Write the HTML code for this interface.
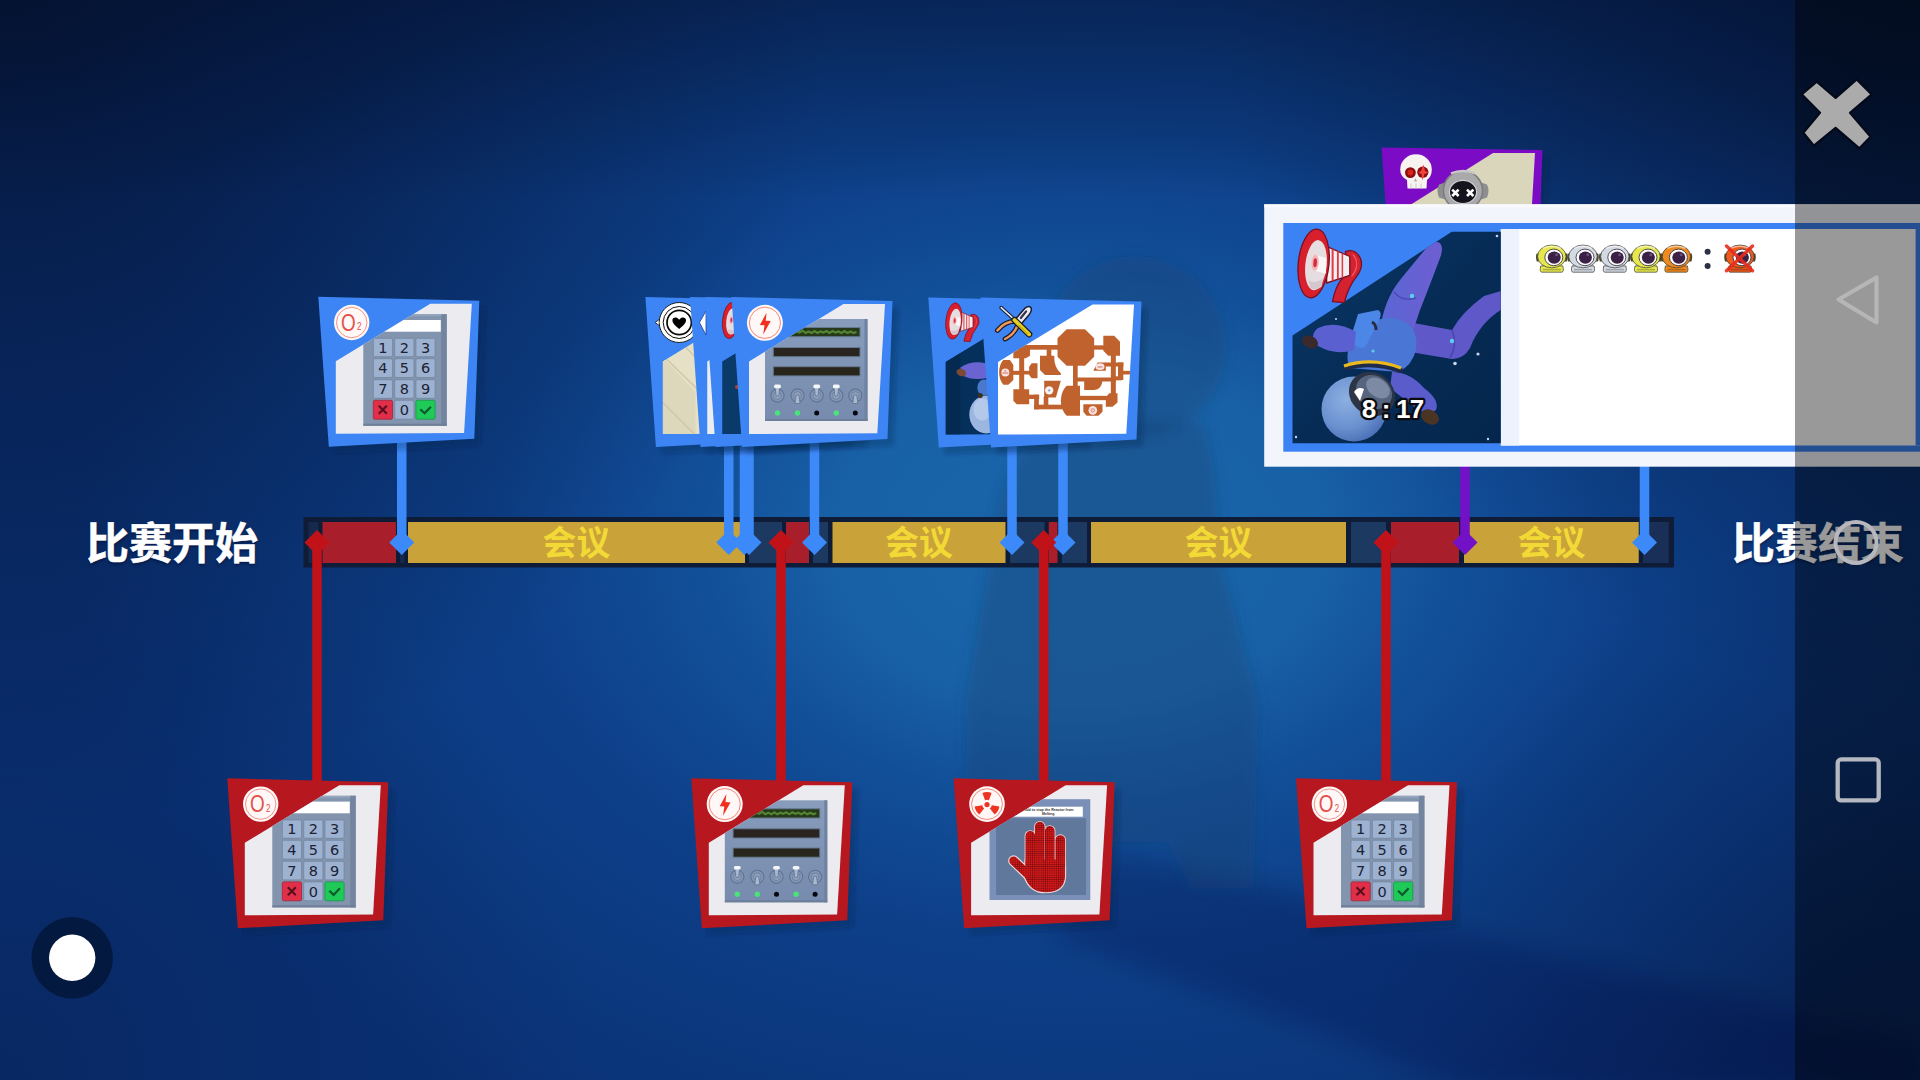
<!DOCTYPE html>
<html lang="zh-CN">
<head>
<meta charset="utf-8">
<title>比赛回放时间线</title>
<style>
html,body{margin:0;padding:0;width:1920px;height:1080px;overflow:hidden;background:#0c3a80;}
body{position:relative;font-family:"Liberation Sans","Noto Sans CJK SC",sans-serif;}
#bg{position:absolute;left:0;top:0;width:1920px;height:1080px;
 background:
  linear-gradient(to bottom, rgba(2,9,28,.4) 0px, rgba(2,9,28,0) 200px),
  radial-gradient(circle 830px at 0px 0px, rgba(2,8,26,.6) 0%, rgba(2,8,26,0) 100%),
  radial-gradient(circle 700px at 1920px 0px, rgba(2,8,26,.52) 0%, rgba(2,8,26,0) 100%),
  radial-gradient(circle 600px at 0px 1080px, rgba(2,8,30,.22) 0%, rgba(2,8,30,0) 100%),
  radial-gradient(circle 560px at 1920px 1080px, rgba(2,8,30,.38) 0%, rgba(2,8,30,0) 100%),
  radial-gradient(ellipse 1000px 700px at 1080px 538px, #1a66ab 0%, #1861a7 24%, #124f99 38%, #0d3f88 58%, #0b367c 85%, #0a3176 100%);}
#scene{position:absolute;left:0;top:0;}
.lbl{position:absolute;color:#fff;font-weight:700;font-size:43px;line-height:43px;-webkit-text-stroke:0.5px #fff;white-space:nowrap;letter-spacing:0;text-shadow:0 2px 3px rgba(0,0,30,.45);}
.meet{position:absolute;top:523px;height:41px;line-height:40px;font-size:34px;font-weight:700;color:#f2d936;text-align:center;white-space:nowrap;}
#nav{position:absolute;left:1795px;top:0;width:125px;height:1080px;background:rgba(0,0,0,.4);}
#navsvg{position:absolute;left:1795px;top:0;}
</style>
</head>
<body>
<div id="bg"></div>
<svg id="scene" width="1920" height="1080" viewBox="0 0 1920 1080">
<defs>
<filter id="fBlur" x="-10%" y="-10%" width="120%" height="120%"><feGaussianBlur stdDeviation="2"/></filter>
<filter id="fBlurBig" filterUnits="userSpaceOnUse" x="850" y="150" width="520" height="850"><feGaussianBlur stdDeviation="7"/></filter>
<filter id="fBlurFloor" filterUnits="userSpaceOnUse" x="900" y="750" width="1100" height="400"><feGaussianBlur stdDeviation="12"/></filter>
<clipPath id="cpPanel"><path d="M17.5 64.5 L112 7 L153.5 7 L145.8 136.2 L17.5 137 Z"/></clipPath>
<pattern id="handgrid" width="13" height="13" patternUnits="userSpaceOnUse"><rect width="13" height="13" fill="#d81a1a"/><path d="M0 0H13M0 0V13" stroke="#7c0c10" stroke-width="6"/></pattern>
<linearGradient id="gPanelBody" x1="0" y1="0" x2="0" y2="1"><stop offset="0" stop-color="#889cbc"/><stop offset="1" stop-color="#768bad"/></linearGradient>
<!-- keypad content (card-local coords) -->
<g id="cKeypad">
 <rect x="45" y="17.5" width="83.4" height="111.6" fill="#8294ae"/>
 <rect x="45" y="17.5" width="83.4" height="2" fill="#93a4bc"/>
 <rect x="123" y="17.5" width="5.4" height="111.6" fill="#73849f"/>
 <rect x="45" y="127" width="83.4" height="2.1" fill="#6f7f99"/>
 <rect x="66" y="23.3" width="56.5" height="11.7" fill="#ffffff"/>
 <g fill="#9db1d1" stroke="#74869f" stroke-width="0.8">
  <rect x="55" y="41.6" width="19.2" height="18.4" rx="1.5"/><rect x="76.4" y="41.6" width="19.2" height="18.4" rx="1.5"/><rect x="97.6" y="41.6" width="19.2" height="18.4" rx="1.5"/>
  <rect x="55" y="62" width="19.2" height="18.8" rx="1.5"/><rect x="76.4" y="62" width="19.2" height="18.8" rx="1.5"/><rect x="97.6" y="62" width="19.2" height="18.8" rx="1.5"/>
  <rect x="55" y="83" width="19.2" height="18.6" rx="1.5"/><rect x="76.4" y="83" width="19.2" height="18.6" rx="1.5"/><rect x="97.6" y="83" width="19.2" height="18.6" rx="1.5"/>
  <rect x="76.4" y="103.6" width="19.2" height="18.9" rx="1.5"/>
 </g>
 <rect x="55" y="103.6" width="19.2" height="18.9" rx="1.5" fill="#e12f49" stroke="#a82238" stroke-width="0.8"/>
 <rect x="97.6" y="103.6" width="19.2" height="18.9" rx="1.5" fill="#1fca59" stroke="#16984a" stroke-width="0.8"/>
 <g font-family="'DejaVu Sans','Liberation Sans',sans-serif" font-size="14.5" fill="#1b2233" text-anchor="middle">
  <text x="64.6" y="56">1</text><text x="86" y="56">2</text><text x="107.2" y="56">3</text>
  <text x="64.6" y="76.6">4</text><text x="86" y="76.6">5</text><text x="107.2" y="76.6">6</text>
  <text x="64.6" y="97.6">7</text><text x="86" y="97.6">8</text><text x="107.2" y="97.6">9</text>
  <text x="86" y="118.4">0</text>
 </g>
 <path d="M60.5 109 L68.5 117 M68.5 109 L60.5 117" stroke="#5a0f1c" stroke-width="2.2" fill="none"/>
 <path d="M102 112.5 L106.3 116.6 L112.6 110" stroke="#0d5a2a" stroke-width="2.2" fill="none"/>
</g>
<!-- electric panel content -->
<g id="cElectric">
 <rect x="33.5" y="22" width="102.5" height="102" fill="url(#gPanelBody)"/>
 <rect x="133" y="22" width="3" height="102" fill="#6f829f"/>
 <rect x="33.5" y="122" width="102.5" height="2" fill="#6c7e9a"/>
 <g stroke="#66788f" stroke-width="1">
  <rect x="41.8" y="30.5" width="86.7" height="9.2" fill="#263a1a"/>
  <rect x="41.8" y="50.5" width="86.7" height="9.2" fill="#2a2421"/>
  <rect x="41.8" y="69.7" width="86.7" height="9.2" fill="#27251c"/>
 </g>
 <path d="M44 35 l3 -1.5 l3 2.5 l3 -2 l3 1.5 l3 -2 l3 2.5 l3 -1.5 l3 1 l3 -2 l3 2.5 l3 -1.5 l3 1.5 l3 -2 l3 2 l3 -1.5 l3 1 l3 -1.5 l3 2 l3 -2 l3 1.5 l3 -1 l3 1.5 l3 -2 l3 2 l3 -1.5 l3 1.5 l3 -1" stroke="#5d9236" stroke-width="2.2" fill="none" stroke-opacity=".85"/>
 <g fill="#8196b4" stroke="#5f7390" stroke-width="1.1">
  <circle cx="46" cy="98.5" r="6.6"/><circle cx="66" cy="98.5" r="6.6"/><circle cx="85.2" cy="98.5" r="6.6"/><circle cx="104.8" cy="98.5" r="6.6"/><circle cx="123.8" cy="98.5" r="6.6"/>
 </g>
 <g fill="#8ea2c0" stroke="#667a97" stroke-width="0.7"><circle cx="46" cy="98.5" r="3.8"/><circle cx="66" cy="98.5" r="3.8"/><circle cx="85.2" cy="98.5" r="3.8"/><circle cx="104.8" cy="98.5" r="3.8"/><circle cx="123.8" cy="98.5" r="3.8"/></g>
 <g fill="#a8b8d0" stroke="#60738f" stroke-width="0.8">
  <path d="M43.6 90 h4.8 l-1 9 h-2.8z"/><path d="M82.8 90 h4.8 l-1 9 h-2.8z"/><path d="M102.4 90 h4.8 l-1 9 h-2.8z"/>
  <path d="M64.6 98 h2.8 l1.2 8.5 h-5.2z"/><path d="M122.4 98 h2.8 l1.2 8.5 h-5.2z"/>
 </g>
 <g fill="#f4f6fa"><rect x="42.6" y="87.6" width="6.8" height="3.6" rx="1.5"/><rect x="81.8" y="87.6" width="6.8" height="3.6" rx="1.5"/><rect x="101.4" y="87.6" width="6.8" height="3.6" rx="1.5"/></g>
 <g><circle cx="46" cy="116" r="2.7" fill="#4be27a"/><circle cx="66" cy="116" r="2.7" fill="#4be27a"/><circle cx="85.2" cy="116" r="2.5" fill="#05070c"/><circle cx="104.8" cy="116" r="2.7" fill="#4be27a"/><circle cx="123.8" cy="116" r="2.5" fill="#05070c"/></g>
</g>
<!-- reactor content -->
<g id="cReactor">
 <rect x="35.9" y="20.9" width="100.8" height="100.8" fill="#7a90b8"/>
 <rect x="42.5" y="40" width="90" height="76.7" fill="#61789d"/>
 <rect x="60" y="28.4" width="69.2" height="10" fill="#ffffff"/>
 <text x="94.6" y="32.6" font-size="3.6" font-weight="700" fill="#333" text-anchor="middle" font-family="'Liberation Sans',sans-serif">Hold to stop the Reactor from</text>
 <text x="94.6" y="36.8" font-size="3.6" font-weight="700" fill="#333" text-anchor="middle" font-family="'Liberation Sans',sans-serif">Melting</text>
 <g transform="translate(-23.3,-18.3) scale(0.16667)">
  <g stroke="#e9d6d6" stroke-linecap="round" stroke-linejoin="round" fill="#e9d6d6">
   <path d="M600 455 V620 M657 400 V620 M717 425 V620 M780 480 V640" stroke-width="68" fill="none"/>
   <path d="M500 605 L600 700" stroke-width="66" fill="none"/>
   <path d="M575 600 H805 V700 Q800 790 690 790 Q600 790 570 700 Z" stroke-width="20"/>
  </g>
  <g stroke="url(#handgrid)" stroke-linecap="round" stroke-linejoin="round" fill="url(#handgrid)">
   <path d="M600 455 V620 M657 400 V620 M717 425 V620 M780 480 V640" stroke-width="58" fill="none"/>
   <path d="M500 605 L600 700" stroke-width="52" fill="none"/>
   <path d="M575 600 H805 V700 Q800 790 690 790 Q600 790 570 700 Z" stroke-width="6"/>
  </g>
 </g>
</g>
<!-- map content: drawn in 6x zoom coords -->
<g id="cMap">
 <g transform="translate(-80.5,-17.5) scale(0.16667)" fill="#c0622e" stroke="none">
  <path d="M1000 295 H1110 L1165 350 V460 L1110 515 H1000 L945 460 V350 Z"/>
  <path d="M1220 335 H1285 L1320 370 V455 H1250 L1220 425 Z"/>
  <rect x="690" y="390" width="265" height="28"/>
  <rect x="1160" y="392" width="70" height="26"/>
  <path d="M680 430 L720 400 H780 V455 L755 470 H680 Z"/>
  <rect x="715" y="400" width="30" height="285"/>
  <rect x="880" y="415" width="28" height="45"/>
  <path d="M620 480 H660 L680 510 V600 L650 628 H620 Q595 600 595 555 Q595 505 620 480 Z"/>
  <rect x="665" y="545" width="60" height="24"/>
  <path d="M790 500 H825 V590 H790 L775 570 V520 Z"/>
  <rect x="740" y="545" width="45" height="22"/>
  <path d="M840 455 H925 Q925 530 965 560 V570 H870 L840 540 Z"/>
  <path d="M680 655 H775 V745 H700 L680 725 Z"/>
  <rect x="770" y="688" width="65" height="26"/>
  <rect x="805" y="688" width="28" height="88"/>
  <rect x="805" y="748" width="170" height="28"/>
  <path d="M865 605 H965 L935 705 H865 Z"/>
  <rect x="862" y="700" width="28" height="55"/>
  <path d="M1000 635 H1080 V815 H1000 Q965 780 965 725 Q965 670 1000 635 Z"/>
  <rect x="1038" y="510" width="28" height="130"/>
  <rect x="1060" y="585" width="235" height="24"/>
  <path d="M1105 590 H1215 Q1215 660 1160 660 H1105 Z"/>
  <rect x="1265" y="450" width="30" height="250"/>
  <path d="M1185 495 H1235 V545 H1160 Z"/>
  <rect x="1230" y="495" width="110" height="24"/>
  <rect x="1308" y="495" width="32" height="105"/>
  <rect x="1290" y="578" width="40" height="24"/>
  <rect x="1335" y="545" width="45" height="22"/>
  <rect x="1078" y="695" width="165" height="26"/>
  <path d="M1255 680 H1305 V735 L1275 760 H1235 V705 Z"/>
  <path d="M1100 745 H1215 V790 L1190 815 H1120 L1100 790 Z"/>
 </g>
 <g transform="translate(-80.5,-17.5) scale(0.16667)">
  <circle cx="632" cy="555" r="24" fill="#f6e4e0"/><path d="M614 558 H650" stroke="#d0504a" stroke-width="5"/><circle cx="632" cy="545" r="6" fill="#e8908a"/>
  <circle cx="895" cy="662" r="25" fill="#fbf3f0"/><circle cx="895" cy="662" r="7" fill="#9aa6d8"/>
  <ellipse cx="1200" cy="520" rx="27" ry="20" fill="#f6e4e0"/><path d="M1186 522 H1214" stroke="#d0504a" stroke-width="5"/>
  <circle cx="1157" cy="782" r="26" fill="#f6e0dc"/><circle cx="1157" cy="782" r="10" fill="none" stroke="#d85a54" stroke-width="4"/>
 </g>
</g>
<!-- heart card content: cream wall with diagonals -->
<g id="cCream">
 <rect x="10" y="5" width="150" height="140" fill="#e6e0c6"/>
 <path d="M17 60 L50 95 L50 145 L17 145Z" fill="#ddd7bb"/>
 <path d="M17 58 L60 100 M17 105 L60 148 M30 40 L70 80" stroke="#cfc8aa" stroke-width="1.5" fill="none"/>
</g>
<g id="cPlain"><rect x="10" y="5" width="150" height="140" fill="#ecedf1"/></g>
<g id="cWhite"><rect x="10" y="5" width="150" height="140" fill="#ffffff"/></g>
<g id="cDark"><rect x="10" y="5" width="150" height="140" fill="#0a3a6a"/><circle cx="32" cy="90" r="2" fill="#b04030"/></g>
<g id="cSpaceSmall">
 <rect x="10" y="5" width="150" height="140" fill="#06305c"/>
 <rect x="10" y="5" width="22" height="140" fill="#052a52"/>
 <ellipse cx="58" cy="117" rx="17" ry="19" fill="#9db6e0"/>
 <ellipse cx="54" cy="112" rx="9" ry="11" fill="#b4c8ea"/>
 <path d="M32 70 Q44 62 58 66 Q66 72 60 80 Q46 84 34 78 Z" fill="#6a64d2"/>
 <ellipse cx="56" cy="90" rx="7" ry="8" fill="#4a78cc"/>
 <ellipse cx="33" cy="75" rx="5" ry="3.6" transform="rotate(20 33 75)" fill="#7a4a34"/>
 <circle cx="52" cy="98" r="2.5" fill="#3a3020"/>
</g>
<!-- icons in card-local coords, centre ~ (33.4,25.8) -->
<g id="iO2">
 <circle cx="33.4" cy="25.8" r="17.7" fill="#fff8f6"/>
 <circle cx="33.4" cy="25.8" r="15.2" fill="none" stroke="#ec8278" stroke-width="0.85"/>
 <text transform="translate(30.1,25.7) scale(0.86,1.07)" x="0" y="7.7" text-anchor="middle" font-family="'Liberation Sans',sans-serif" font-size="22" fill="#e4504a">O</text>
 <text transform="translate(41,33.7) scale(0.8,1)" x="0" y="0" text-anchor="middle" font-family="'Liberation Sans',sans-serif" font-size="10" fill="#e4504a">2</text>
</g>
<g id="iBolt">
 <circle cx="33.4" cy="25.8" r="18" fill="#fff8f6"/>
 <circle cx="33.4" cy="25.8" r="15.6" fill="none" stroke="#ec7468" stroke-width="0.85"/>
 <path transform="translate(33.4,25.8)" d="M1.7 -10 L-5 2.1 L-0.4 2.5 L-1.7 11.7 L5.8 -1.7 L0.8 -2.1 Z" fill="#f1301f"/>
</g>
<g id="iNuke">
 <circle cx="33.4" cy="25.8" r="17.8" fill="#fff8f6"/>
 <circle cx="33.4" cy="25.8" r="15.4" fill="none" stroke="#ec7468" stroke-width="0.85"/>
 <g transform="translate(33.4,26.3)" fill="#ee3322">
  <circle r="2.6"/>
  <path id="blade" d="M-1.9 -4.4 L-4.6 -11.6 A12.5 12.5 0 0 1 4.6 -11.6 L1.9 -4.4 A4.8 4.8 0 0 0 -1.9 -4.4 Z"/>
  <path transform="rotate(120)" d="M-1.9 -4.4 L-4.6 -11.6 A12.5 12.5 0 0 1 4.6 -11.6 L1.9 -4.4 A4.8 4.8 0 0 0 -1.9 -4.4 Z"/>
  <path transform="rotate(240)" d="M-1.9 -4.4 L-4.6 -11.6 A12.5 12.5 0 0 1 4.6 -11.6 L1.9 -4.4 A4.8 4.8 0 0 0 -1.9 -4.4 Z"/>
 </g>
</g>
<g id="iVitals">
 <g transform="translate(33.8,25.5)">
  <path d="M-24 0 L-18 -4.5 L-18 4.5 Z" fill="#fff" stroke="#111" stroke-width="0.8"/>
  <circle r="20" fill="#ffffff" stroke="#0b0b0b" stroke-width="0.9"/>
  <circle r="16" fill="none" stroke="#0b0b0b" stroke-width="1"/>
  <circle r="12.2" fill="none" stroke="#0b0b0b" stroke-width="1.7"/>
  <path d="M0 6.5 C-3 4 -6.8 1.2 -6.8 -2.2 C-6.8 -5.2 -2.6 -6.2 0 -2.8 C2.6 -6.2 6.8 -5.2 6.8 -2.2 C6.8 1.2 3 4 0 6.5 Z" fill="#000"/>
 </g>
</g>
<!-- megaphone drawn in a 380x440 box (popup 6x zoom coords, origin 230,210) -->
<g id="iMega">
 <g stroke="#7a1024" stroke-width="8" stroke-linejoin="round">
  <path d="M283 130 Q340 108 372 168 Q394 222 350 278 Q300 340 276 436 L205 430 Q222 340 262 292 L300 268 Z" fill="#d42230"/>
  <path d="M170 98 L309 159 L309 272 L170 318 Z" fill="#f3eef0"/>
  <ellipse cx="92" cy="201" rx="92" ry="207" transform="rotate(6 92 201)" fill="#d8202c"/>
 </g>
 <path d="M200 111 L212 116.4 L212 304 L200 308 Z M232 125 L243 130 L243 294 L232 297.5 Z M260 137.5 L269 141.4 L269 285 L260 288 Z" fill="#e23a44"/>
 <path d="M330 150 Q352 175 350 215 Q345 250 322 275" stroke="#ee5a66" stroke-width="7" fill="none" stroke-linecap="round"/>
 <ellipse cx="106" cy="211" rx="64" ry="151" transform="rotate(6 106 211)" fill="#e6dde1"/>
 <path d="M60 300 Q100 330 150 290 L140 340 Q100 372 70 345 Z" fill="#d4c8ce"/>
 <path d="M101 150 L168 168 L166 262 L101 245 Z" fill="#f9f6f7"/>
 <ellipse cx="101" cy="197" rx="22" ry="48" transform="rotate(4 101 197)" fill="#f6b4b8"/>
 <ellipse cx="101" cy="197" rx="11" ry="27" transform="rotate(4 101 197)" fill="#d23040"/>
</g>
<!-- tools: crossed screwdriver + pliers, in 6x zoom coords origin (575,150), size 225x215 -->
<g id="iTools">
 <g stroke="#1a1c30" stroke-linecap="round" stroke-linejoin="round" fill="none">
  <path d="M112 98 Q55 100 10 152 M128 128 Q110 175 56 204" stroke-width="30"/>
  <path d="M112 98 Q55 100 10 152 M128 128 Q110 175 56 204" stroke="#f09a5a" stroke-width="15"/>
  <path d="M112 92 L172 22 Q200 -2 212 18 Q218 34 200 58 L146 122 Z" fill="#ebebf0" stroke-width="9"/>
  <path d="M182 38 L150 78" stroke="#34304a" stroke-width="13"/>
  <path d="M32 16 L112 88" stroke-width="22"/>
  <path d="M32 16 L112 88" stroke="#e4ecf4" stroke-width="9"/>
  <path d="M112 90 L200 176" stroke-width="38"/>
  <path d="M112 90 L200 176" stroke="#e6cf1e" stroke-width="23"/>
  <path d="M140 124 L192 174" stroke="#b8a010" stroke-width="6"/>
 </g>
</g>
<!-- skull, centre (0,0) ~ 32 wide -->
<g id="iSkull">
 <path d="M-15.8 0 A15.8 15.2 0 1 1 15.8 0 Q15.8 7 11 10.5 L10.5 19 L-8.5 19 L-9 10.5 Q-15.8 7 -15.8 0 Z" fill="#f7f3f1"/>
 <path d="M-5 14 V19 M0 14 V19 M5 14 V19" stroke="#d8cfcc" stroke-width="1.2"/>
 <circle cx="-5.6" cy="3.2" r="5.4" fill="#8c0c10"/><circle cx="-5.6" cy="3.2" r="3" fill="#d8221c"/>
 <circle cx="6.8" cy="2.8" r="5.6" fill="#8c0c10"/>
 <path d="M7.5 -5 L5 1.5 L2 3 L5.5 4.5 L6.5 11 L8.5 4.5 L12.5 3 L9 1.5 Z" fill="#f0433c"/>
 <path d="M-0.5 8.5 L-2 12 H1 Z" fill="#b9aaa6"/>
</g>
<!-- dead helmet, centre (0,0) r~19 -->
<g id="iDead">
 <path d="M-24 -6 Q-27 0 -24 7 L-18 9 L-18 -8 Z M24 -6 Q27 0 24 7 L18 9 L18 -8 Z" fill="#8e8e90"/>
 <circle r="19.5" fill="#a9a9ab"/>
 <circle r="19.5" fill="none" stroke="#7c7c80" stroke-width="1.5"/>
 <path d="M-12 -17 Q0 -22 12 -17" stroke="#c8c8ca" stroke-width="2.5" fill="none"/>
 <ellipse cx="0" cy="1.5" rx="13.6" ry="11.6" fill="#15131c"/>
 <ellipse cx="0" cy="1.5" rx="13.6" ry="11.6" fill="none" stroke="#d0d0d4" stroke-width="1.2"/>
 <path d="M-10.8 -0.8 L-4.4 5.6 M-4.4 -0.8 L-10.8 5.6 M4 -0.8 L10.4 5.6 M10.4 -0.8 L4 5.6" stroke="#fff" stroke-width="2.6"/>
</g>
<linearGradient id="gSpace" x1="0" y1="0" x2="1" y2="1"><stop offset="0" stop-color="#0a3868"/><stop offset="0.5" stop-color="#062c56"/><stop offset="1" stop-color="#04264c"/></linearGradient>
<radialGradient id="gHelmet" cx="0.38" cy="0.35" r="0.75"><stop offset="0" stop-color="#8db0e2"/><stop offset="0.6" stop-color="#6a90cf"/><stop offset="1" stop-color="#4468b0"/></radialGradient>
<linearGradient id="gLeg" x1="0" y1="0" x2="1" y2="0"><stop offset="0" stop-color="#5a66d4"/><stop offset="1" stop-color="#6e5ed2"/></linearGradient>
<clipPath id="cpSpace"><path d="M1292.5 443.3 L1292.5 335.5 L1451.7 231.7 L1500.8 231.7 L1500.8 443.3 Z"/></clipPath>
<g id="helm">
 <path d="M-11 9.5 Q-12.5 15.5 -10 15.8 H10 Q12.5 15.5 11 9.5 Z" fill="currentColor" stroke="#3a3a30" stroke-width="0.7"/>
 <path d="M-9 13.2 H9" stroke="#000" stroke-opacity=".25" stroke-width="1.6"/>
 <path d="M-15.2 -3 Q-16.5 1 -15 5 L-12 5 L-12 -3 Z M15.2 -3 Q16.5 1 15 5 L12 5 L12 -3 Z" fill="#4a4630"/>
 <ellipse cx="0" cy="0" rx="14.2" ry="11.4" fill="currentColor" stroke="#3a3a30" stroke-width="0.7"/>
 <path d="M-9 -8.2 Q0 -12.2 9 -8.2" stroke="#fff" stroke-opacity=".55" stroke-width="1.6" fill="none"/>
 <ellipse cx="2" cy="1" rx="9" ry="8.3" fill="#ffffff" stroke="#2a2030" stroke-width="0.8"/>
 <ellipse cx="2.4" cy="1.2" rx="6.5" ry="6.1" fill="#3a2145"/>
 <circle cx="4.8" cy="-1.6" r="1.5" fill="#6a5078"/>
</g>

</defs>
<g id="floorshadow" filter="url(#fBlurFloor)"><path d="M1116 850 L1400 918 L1795 1012 L1920 1045 L1920 1090 L1480 1090 L1050 935 Z" fill="#020b30" fill-opacity=".22"/></g>
<g id="silhouette" fill="#1a3f70" fill-opacity=".36" filter="url(#fBlurBig)">
 <circle cx="1135" cy="347" r="91"/>
 <path d="M1064 422 Q1000 440 990 560 L966 700 L968 830 L975 888 L1042 888 L1062 842 L1168 842 L1190 888 L1254 888 L1258 700 L1220 560 Q1216 450 1202 422 Z"/>
</g>

<rect x="303.5" y="517" width="1370.5" height="50.5" fill="#0f1c38"/>
<rect x="308.5" y="522" width="10.0" height="41" fill="#15294c"/>
<rect x="322.5" y="522" width="73.5" height="41" fill="#a81f2b"/>
<rect x="400" y="522" width="4.5" height="41" fill="#15294c"/>
<rect x="408" y="522" width="337" height="41" fill="#c9a23a"/>
<rect x="749" y="522" width="33" height="41" fill="#1c3962"/>
<rect x="786" y="522" width="23" height="41" fill="#a81f2b"/>
<rect x="813" y="522" width="15" height="41" fill="#1c3962"/>
<rect x="832.5" y="522" width="173.0" height="41" fill="#c9a23a"/>
<rect x="1010" y="522" width="34.5" height="41" fill="#1c3962"/>
<rect x="1048.75" y="522" width="8.75" height="41" fill="#a81f2b"/>
<rect x="1062" y="522" width="25" height="41" fill="#1c3962"/>
<rect x="1091" y="522" width="255" height="41" fill="#c9a23a"/>
<rect x="1351" y="522" width="35" height="41" fill="#1c3962"/>
<rect x="1391" y="522" width="68" height="41" fill="#a81f2b"/>
<rect x="1464" y="522" width="174.75" height="41" fill="#c9a23a"/>
<rect x="1643" y="522" width="25.75" height="41" fill="#1a2f58"/>
<rect x="397.0" y="430" width="9.5" height="112" fill="#3c8af9"/>
<path d="M401.75 530 L414.25 542.5 L401.75 555 L389.25 542.5 Z" fill="#3c8af9"/>
<rect x="724.0" y="430" width="9.5" height="112" fill="#3c8af9"/>
<path d="M728.75 530 L741.25 542.5 L728.75 555 L716.25 542.5 Z" fill="#3c8af9"/>
<rect x="739.75" y="430" width="9.5" height="112" fill="#3c8af9"/>
<path d="M744.5 530 L757.0 542.5 L744.5 555 L732.0 542.5 Z" fill="#3c8af9"/>
<rect x="744.25" y="430" width="9.5" height="112" fill="#3c8af9"/>
<path d="M749 530 L761.5 542.5 L749 555 L736.5 542.5 Z" fill="#3c8af9"/>
<rect x="809.75" y="430" width="9.5" height="112" fill="#3c8af9"/>
<path d="M814.5 530 L827.0 542.5 L814.5 555 L802.0 542.5 Z" fill="#3c8af9"/>
<rect x="1007.25" y="430" width="9.5" height="112" fill="#3c8af9"/>
<path d="M1012 530 L1024.5 542.5 L1012 555 L999.5 542.5 Z" fill="#3c8af9"/>
<rect x="1058.25" y="430" width="9.5" height="112" fill="#3c8af9"/>
<path d="M1063 530 L1075.5 542.5 L1063 555 L1050.5 542.5 Z" fill="#3c8af9"/>
<rect x="1639.75" y="455" width="9.5" height="87" fill="#3c8af9"/>
<path d="M1644.5 530 L1657.0 542.5 L1644.5 555 L1632.0 542.5 Z" fill="#3c8af9"/>
<rect x="1460.25" y="455" width="9.5" height="87" fill="#7311c6"/>
<path d="M1465 530 L1477.5 542.5 L1465 555 L1452.5 542.5 Z" fill="#7311c6"/>
<rect x="312.25" y="542" width="9.5" height="258" fill="#c11219"/>
<path d="M317 530 L329.5 542.5 L317 555 L304.5 542.5 Z" fill="#c11219"/>
<rect x="776.25" y="542" width="9.5" height="258" fill="#c11219"/>
<path d="M781 530 L793.5 542.5 L781 555 L768.5 542.5 Z" fill="#c11219"/>
<rect x="1039.0" y="542" width="9.5" height="258" fill="#c11219"/>
<path d="M1043.75 530 L1056.25 542.5 L1043.75 555 L1031.25 542.5 Z" fill="#c11219"/>
<rect x="1381.25" y="542" width="9.5" height="258" fill="#c11219"/>
<path d="M1386 530 L1398.5 542.5 L1386 555 L1373.5 542.5 Z" fill="#c11219"/>
<g transform="translate(318.3,296.7)"><path d="M0 0 L161 4 L156 142 L10.5 150Z" transform="translate(6,7)" fill="#031a4a" fill-opacity=".26" filter="url(#fBlur)"/><path d="M0 0 L161 4 L156 142 L10.5 150Z" fill="#3d85f4"/><path d="M17.5 64.5 L112 7 L153.5 7 L145.8 136.2 L17.5 137 Z" fill="#ececf0"/><g clip-path="url(#cpPanel)"><use href="#cKeypad"/></g><use href="#iO2"/></g>
<g transform="translate(645.4,297)"><path d="M0 0 L161 4 L156 142 L10.5 150Z" transform="translate(6,7)" fill="#031a4a" fill-opacity=".26" filter="url(#fBlur)"/><path d="M0 0 L161 4 L156 142 L10.5 150Z" fill="#3d85f4"/><path d="M17.5 64.5 L112 7 L153.5 7 L145.8 136.2 L17.5 137 Z" fill="#e6e0c6"/><g clip-path="url(#cpPanel)"><use href="#cCream"/></g><use href="#iVitals"/></g>
<g transform="translate(690,297)"><path d="M0 0 L161 4 L156 142 L10.5 150Z" transform="translate(6,7)" fill="#031a4a" fill-opacity=".26" filter="url(#fBlur)"/><path d="M0 0 L161 4 L156 142 L10.5 150Z" fill="#3d85f4"/><path d="M17.5 64.5 L112 7 L153.5 7 L145.8 136.2 L17.5 137 Z" fill="#eef0f4"/><g clip-path="url(#cpPanel)"><use href="#cPlain"/></g><path d="M9.5 25.5 L16 14 L16 38 Z" fill="#fff" stroke="#1b3f9a" stroke-width="0.8"/></g>
<g transform="translate(705,297)"><path d="M0 0 L161 4 L156 142 L10.5 150Z" transform="translate(6,7)" fill="#031a4a" fill-opacity=".26" filter="url(#fBlur)"/><path d="M0 0 L161 4 L156 142 L10.5 150Z" fill="#3d85f4"/><path d="M17.5 64.5 L112 7 L153.5 7 L145.8 136.2 L17.5 137 Z" fill="#0a3a6a"/><g clip-path="url(#cpPanel)"><use href="#cDark"/></g><g transform="translate(17.5,5.8) scale(0.088)"><use href="#iMega"/></g></g>
<g transform="translate(731.5,297)"><path d="M0 0 L161 4 L156 142 L10.5 150Z" transform="translate(6,7)" fill="#031a4a" fill-opacity=".26" filter="url(#fBlur)"/><path d="M0 0 L161 4 L156 142 L10.5 150Z" fill="#3d85f4"/><path d="M17.5 64.5 L112 7 L153.5 7 L145.8 136.2 L17.5 137 Z" fill="#ececf0"/><g clip-path="url(#cpPanel)"><use href="#cElectric"/></g><use href="#iBolt"/></g>
<g transform="translate(928.3,297.5)"><path d="M0 0 L161 4 L156 142 L10.5 150Z" transform="translate(6,7)" fill="#031a4a" fill-opacity=".26" filter="url(#fBlur)"/><path d="M0 0 L161 4 L156 142 L10.5 150Z" fill="#3d85f4"/><path d="M17.5 64.5 L112 7 L153.5 7 L145.8 136.2 L17.5 137 Z" fill="#07305c"/><g clip-path="url(#cpPanel)"><use href="#cSpaceSmall"/></g><g transform="translate(17.5,5.8) scale(0.088)"><use href="#iMega"/></g></g>
<g transform="translate(980.5,297.5)"><path d="M0 0 L161 4 L156 142 L10.5 150Z" transform="translate(6,7)" fill="#031a4a" fill-opacity=".26" filter="url(#fBlur)"/><path d="M0 0 L161 4 L156 142 L10.5 150Z" fill="#3d85f4"/><path d="M17.5 64.5 L112 7 L153.5 7 L145.8 136.2 L17.5 137 Z" fill="#ffffff"/><g clip-path="url(#cpPanel)"><use href="#cMap"/></g><g transform="translate(15.3,7.5) scale(0.16667)"><use href="#iTools"/></g></g>
<g transform="translate(1381.5,147.6)"><path d="M0 0 L161 2.4 L156 142 L10.5 150Z" transform="translate(6,7)" fill="#031a4a" fill-opacity=".26" filter="url(#fBlur)"/><path d="M0 0 L161 2.4 L156 142 L10.5 150Z" fill="#7b0bc4"/><path d="M17.5 64.5 L111.5 5.4 L153.5 5.4 L145.8 136.2 L17.5 137 Z" fill="#dad6bc"/><g transform="translate(1416,169.4) translate(-1381.5,-147.6)"><use href="#iSkull"/></g><g transform="translate(1463,190.4) translate(-1381.5,-147.6)"><use href="#iDead"/></g></g>
<g transform="translate(227.3,778.3)"><path d="M0 0 L161 4 L156 142 L10.5 150Z" transform="translate(6,7)" fill="#031a4a" fill-opacity=".26" filter="url(#fBlur)"/><path d="M0 0 L161 4 L156 142 L10.5 150Z" fill="#b7171f"/><path d="M17.5 64.5 L112 7 L153.5 7 L145.8 136.2 L17.5 137 Z" fill="#ececf0"/><g clip-path="url(#cpPanel)"><use href="#cKeypad"/></g><use href="#iO2"/></g>
<g transform="translate(691.3,778.3)"><path d="M0 0 L161 4 L156 142 L10.5 150Z" transform="translate(6,7)" fill="#031a4a" fill-opacity=".26" filter="url(#fBlur)"/><path d="M0 0 L161 4 L156 142 L10.5 150Z" fill="#b7171f"/><path d="M17.5 64.5 L112 7 L153.5 7 L145.8 136.2 L17.5 137 Z" fill="#ececf0"/><g clip-path="url(#cpPanel)"><use href="#cElectric"/></g><use href="#iBolt"/></g>
<g transform="translate(953.6,778.3)"><path d="M0 0 L161 4 L156 142 L10.5 150Z" transform="translate(6,7)" fill="#031a4a" fill-opacity=".26" filter="url(#fBlur)"/><path d="M0 0 L161 4 L156 142 L10.5 150Z" fill="#b7171f"/><path d="M17.5 64.5 L112 7 L153.5 7 L145.8 136.2 L17.5 137 Z" fill="#ececf0"/><g clip-path="url(#cpPanel)"><use href="#cReactor"/></g><use href="#iNuke"/></g>
<g transform="translate(1296,778.3)"><path d="M0 0 L161 4 L156 142 L10.5 150Z" transform="translate(6,7)" fill="#031a4a" fill-opacity=".26" filter="url(#fBlur)"/><path d="M0 0 L161 4 L156 142 L10.5 150Z" fill="#b7171f"/><path d="M17.5 64.5 L112 7 L153.5 7 L145.8 136.2 L17.5 137 Z" fill="#ececf0"/><g clip-path="url(#cpPanel)"><use href="#cKeypad"/></g><use href="#iO2"/></g>
<g id="popup">
 <rect x="1264.2" y="204.3" width="660" height="262.4" fill="#f2f5fc"/>
 <rect x="1264.2" y="204.3" width="660" height="3" fill="#f8fafe"/>
 <rect x="1283.3" y="223" width="640" height="228.7" fill="#3b82f4"/>
 <rect x="1500.8" y="229" width="420" height="216.5" fill="#ffffff"/>
 <rect x="1500.8" y="229" width="18.5" height="216.5" fill="#edf3fc"/>
 <rect x="1915.6" y="229" width="6" height="216.5" fill="#3b82f4"/>
 <path d="M1292.5 443.3 L1292.5 335.5 L1451.7 231.7 L1500.8 231.7 L1500.8 443.3 Z" fill="url(#gSpace)"/>
 <g clip-path="url(#cpSpace)">
  <g fill="#c8d4ee"><circle cx="1478" cy="354" r="1.6"/><circle cx="1455" cy="363.5" r="1.8"/><circle cx="1336" cy="319" r="1"/><circle cx="1362" cy="355" r="1.2"/><circle cx="1296" cy="437" r="1.2"/><circle cx="1488" cy="439" r="1.2"/><circle cx="1497" cy="236" r="1.3"/></g>
  <!-- right leg (towards right) -->
  <path d="M1408 322 L1452 330 Q1462 312 1484 296 L1504 290 L1504 308 Q1480 322 1470 348 Q1462 362 1446 358 L1410 352 Z" fill="#5e58c8"/>
  <path d="M1452 330 Q1458 345 1450 358" stroke="#4a44ae" stroke-width="1.5" fill="none"/>
  <!-- up leg -->
  <path d="M1380 330 Q1384 300 1400 280 Q1418 258 1428 246 Q1434 240 1440 243 Q1444 248 1440 258 Q1428 290 1420 310 Q1414 328 1410 340 Z" fill="url(#gLeg)"/>
  <path d="M1394 292 Q1402 302 1416 298" stroke="#4a48b4" stroke-width="1.4" fill="none"/>
  <!-- torso -->
  <path d="M1352 340 Q1362 318 1392 318 Q1420 322 1416 350 Q1412 366 1398 372 L1350 368 Q1344 356 1352 340 Z" fill="#4a76d6"/>
  <!-- backpack -->
  <path d="M1358 314 L1378 310 Q1382 312 1380 318 L1366 346 Q1362 350 1356 346 L1350 340 Z" fill="#4c86e6"/>
  <path d="M1372 322 q4 2 4 8" stroke="#2a2a40" stroke-width="3" fill="none"/>
  <!-- left arm -->
  <path d="M1356 332 Q1336 320 1318 328 Q1308 336 1318 346 Q1336 356 1354 350 Z" fill="#5a60d0"/>
  <ellipse cx="1310" cy="342" rx="8.5" ry="6" transform="rotate(25 1310 342)" fill="#3a2a2c"/>
  <!-- right arm -->
  <path d="M1392 372 Q1410 372 1424 388 Q1440 400 1436 410 Q1428 416 1416 408 Q1400 396 1390 388 Z" fill="#5a5ccc"/>
  <ellipse cx="1430" cy="417" rx="9.5" ry="7" transform="rotate(30 1430 417)" fill="#4a3424"/>
  <!-- helmet -->
  <circle cx="1354" cy="409" r="32.5" fill="url(#gHelmet)"/>
  <path d="M1344 368 Q1372 360 1402 371" stroke="#1e2a4a" stroke-width="5" fill="none"/>
  <path d="M1344 366 Q1372 357 1401 368" stroke="#e9b91e" stroke-width="3.2" fill="none"/>
  <ellipse cx="1372" cy="394" rx="24" ry="21" transform="rotate(35 1372 394)" fill="#2c3446"/>
  <ellipse cx="1374" cy="392" rx="19" ry="16" transform="rotate(35 1374 392)" fill="#56647e"/>
  <ellipse cx="1378" cy="388" rx="13" ry="9" transform="rotate(35 1378 388)" fill="#7c8aa4"/>
  <path d="M1354 392 q4 -6 10 -3 q-2 6 -4 12 z" fill="#ffffff"/>
  <g fill="#5ad0e8"><circle cx="1412" cy="296" r="2.2"/><circle cx="1452" cy="341" r="2.2"/><circle cx="1373" cy="351" r="1.6"/></g>
 </g>
 <!-- megaphone icon -->
 <g transform="translate(1298.3,230) scale(0.16667)"><use href="#iMega"/></g>
 <text x="1392.5" y="418.3" text-anchor="middle" font-family="'Liberation Sans',sans-serif" font-weight="700" font-size="26" fill="#ffffff" stroke="#0c0c10" stroke-width="4.5" stroke-linejoin="round" paint-order="stroke fill" letter-spacing="-0.8">8 : 17</text>
 <!-- player helmets -->
 <g transform="translate(1551.8,256.4)" color="#e6e84e"><use href="#helm"/></g>
 <g transform="translate(1583,256.4)" color="#d4dae4"><use href="#helm"/></g>
 <g transform="translate(1614.8,256.4)" color="#d4dae4"><use href="#helm"/></g>
 <g transform="translate(1646,256.4)" color="#e6e84e"><use href="#helm"/></g>
 <g transform="translate(1676.4,256.4)" color="#ef8a1e"><use href="#helm"/></g>
 <circle cx="1707.6" cy="251.8" r="3" fill="#2c3244"/><circle cx="1707.6" cy="266" r="3" fill="#2c3244"/>
 <g transform="translate(1740,256.4)" color="#ee5a1c"><use href="#helm"/></g>
 <path d="M1726.5 246 L1752.5 270.8 M1752.5 246 L1726.5 270.8" stroke="#ea2a1c" stroke-width="3.4" stroke-linecap="round" stroke-opacity=".9"/>
</g>

<g id="joystick"><circle cx="72.2" cy="957.8" r="40.7" fill="#041637" fill-opacity=".82"/><circle cx="72.2" cy="957.8" r="23.2" fill="#ffffff"/></g>

</svg>
<div class="lbl" style="left:86px;top:523px;">比赛开始</div>
<div class="lbl" style="left:1732px;top:523px;">比赛结束</div>
<div class="meet" style="left:408px;width:337px;">会议</div>
<div class="meet" style="left:832px;width:174px;">会议</div>
<div class="meet" style="left:1091px;width:255px;">会议</div>
<div class="meet" style="left:1464px;width:175px;">会议</div>
<div id="nav"></div>
<svg id="navsvg" width="125" height="1080" viewBox="1795 0 125 1080">
<path d="M1801.7 94.4 L1816.7 81.7 L1835.6 97.8 L1856.7 79.4 L1871.7 94.4 L1850 112.8 L1870.6 136.7 L1859.4 148.3 L1835.6 127.8 L1813.9 145.6 L1803.3 132.8 L1820 112.8 Z" fill="#ababab" stroke="#040a1a" stroke-width="2.2" stroke-linejoin="round"/>
<path d="M1838.5 299.5 L1876.5 277.5 L1876.5 322.5 Z" fill="none" stroke="#b6b6b6" stroke-width="4.2" stroke-linejoin="round"/>
<circle cx="1856" cy="542.5" r="20.5" fill="none" stroke="#b6b8be" stroke-width="4"/>
<rect x="1837.7" y="759.4" width="41" height="41" rx="3.5" fill="none" stroke="#b4b8c0" stroke-width="4.3"/>
</svg>
</body>
</html>
